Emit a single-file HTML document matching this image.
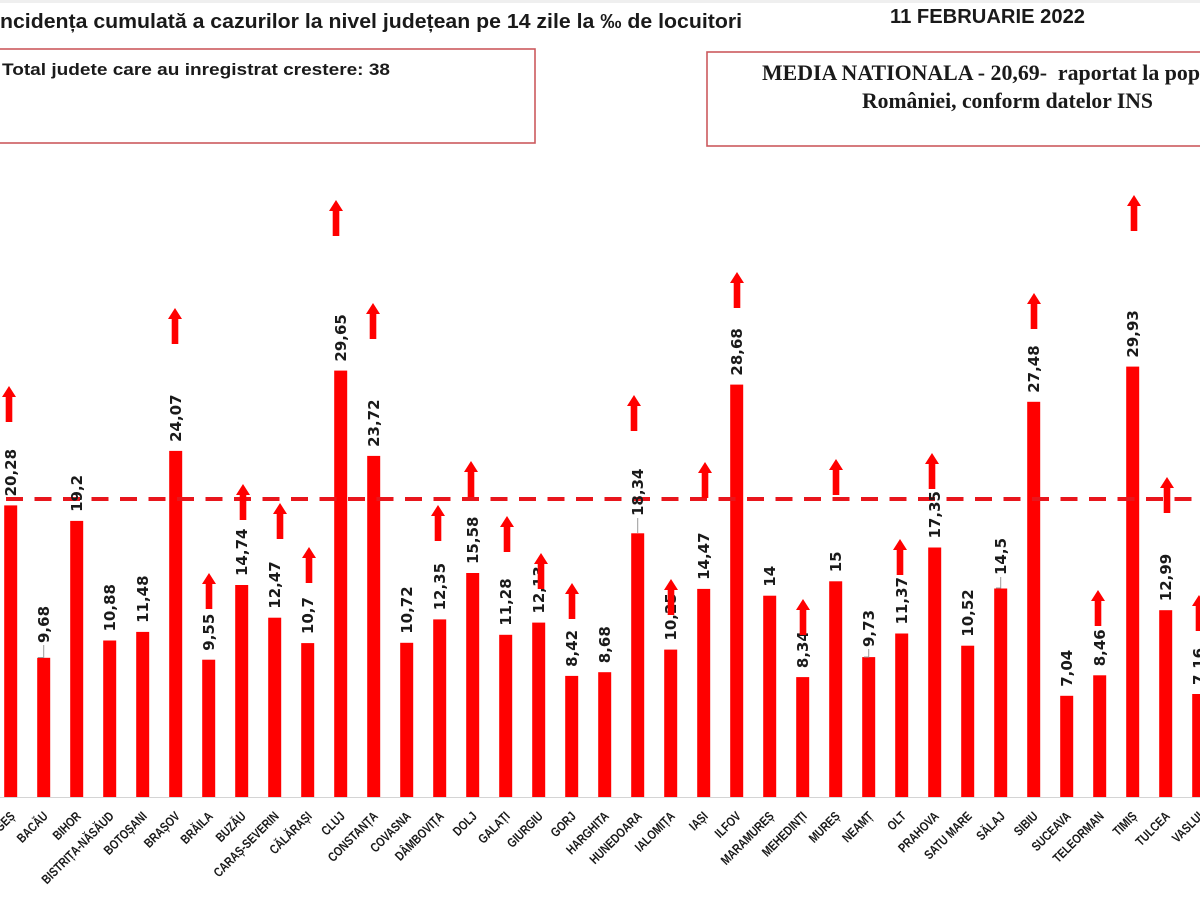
<!DOCTYPE html>
<html>
<head>
<meta charset="utf-8">
<style>
  html,body{margin:0;padding:0;background:#fff;}
  body{width:1200px;height:900px;overflow:hidden;}
  svg{display:block;}
  .v{font-family:"DejaVu Sans","Liberation Sans",sans-serif;font-weight:bold;font-size:15px;fill:#1a1a1a;}
  .x{font-family:"Liberation Sans",sans-serif;font-weight:bold;font-size:13px;fill:#1a1a1a;}
</style>
</head>
<body>
<svg width="1200" height="900" viewBox="0 0 1200 900" xmlns="http://www.w3.org/2000/svg">
  <defs>
    <path id="ar" d="M0 0 L7 11 L3.3 11 L3.3 36 L-3.3 36 L-3.3 11 L-7 11 Z" fill="#ff0000"/>
  </defs>
  <rect x="0" y="0" width="1200" height="900" fill="#fff"/>
  <rect x="0" y="0" width="1200" height="3" fill="#efefef"/>

  <!-- Titles -->
  <text x="0" y="28" textLength="742" lengthAdjust="spacingAndGlyphs" font-family="Liberation Sans, sans-serif" font-weight="bold" font-size="20" fill="#1a1a1a">ncidența cumulată a cazurilor la nivel județean pe 14 zile la ‰ de locuitori</text>
  <text x="890" y="23" textLength="195" lengthAdjust="spacingAndGlyphs" font-family="Liberation Sans, sans-serif" font-weight="bold" font-size="20" fill="#1a1a1a">11 FEBRUARIE 2022</text>

  <!-- Boxes -->
  <rect x="-2" y="49" width="537" height="94" fill="none" stroke="#cc5a5e" stroke-width="1.6"/>
  <text x="2" y="75" textLength="388" lengthAdjust="spacingAndGlyphs" font-family="Liberation Sans, sans-serif" font-weight="bold" font-size="17" fill="#1a1a1a">Total judete care au inregistrat crestere: 38</text>

  <rect x="707" y="52" width="500" height="94" fill="none" stroke="#cc5a5e" stroke-width="1.6"/>
  <text x="762" y="80" textLength="438" lengthAdjust="spacingAndGlyphs" font-family="Liberation Serif, serif" font-weight="bold" font-size="22" fill="#1a1a1a" style="white-space:pre">MEDIA NATIONALA - 20,69-  raportat la pop</text>
  <text x="862" y="108" textLength="291" lengthAdjust="spacingAndGlyphs" font-family="Liberation Serif, serif" font-weight="bold" font-size="22" fill="#1a1a1a">României, conform datelor INS</text>

  <!-- Axis -->
  <line x1="0" y1="797.5" x2="1200" y2="797.5" stroke="#d4d4d4" stroke-width="1"/>

  <!-- Bars -->
  <g fill="#ff0000">
    <rect x="4.2" y="505.4" width="13" height="291.6"/>
    <rect x="37.2" y="657.8" width="13" height="139.2"/>
    <rect x="70.2" y="520.9" width="13" height="276.1"/>
    <rect x="103.2" y="640.5" width="13" height="156.5"/>
    <rect x="136.2" y="631.9" width="13" height="165.1"/>
    <rect x="169.2" y="450.9" width="13" height="346.1"/>
    <rect x="202.2" y="659.7" width="13" height="137.3"/>
    <rect x="235.2" y="585" width="13" height="212"/>
    <rect x="268.2" y="617.7" width="13" height="179.3"/>
    <rect x="301.2" y="643.1" width="13" height="153.9"/>
    <rect x="334.2" y="370.6" width="13" height="426.4"/>
    <rect x="367.2" y="455.9" width="13" height="341.1"/>
    <rect x="400.2" y="642.8" width="13" height="154.2"/>
    <rect x="433.2" y="619.4" width="13" height="177.6"/>
    <rect x="466.2" y="573" width="13" height="224"/>
    <rect x="499.2" y="634.8" width="13" height="162.2"/>
    <rect x="532.2" y="622.6" width="13" height="174.4"/>
    <rect x="565.2" y="675.9" width="13" height="121.1"/>
    <rect x="598.2" y="672.2" width="13" height="124.8"/>
    <rect x="631.2" y="533.3" width="13" height="263.7"/>
    <rect x="664.2" y="649.6" width="13" height="147.4"/>
    <rect x="697.2" y="588.9" width="13" height="208.1"/>
    <rect x="730.2" y="384.6" width="13" height="412.4"/>
    <rect x="763.2" y="595.7" width="13" height="201.3"/>
    <rect x="796.2" y="677.1" width="13" height="119.9"/>
    <rect x="829.2" y="581.3" width="13" height="215.7"/>
    <rect x="862.2" y="657.1" width="13" height="139.9"/>
    <rect x="895.2" y="633.5" width="13" height="163.5"/>
    <rect x="928.2" y="547.5" width="13" height="249.5"/>
    <rect x="961.2" y="645.7" width="13" height="151.3"/>
    <rect x="994.2" y="588.5" width="13" height="208.5"/>
    <rect x="1027.2" y="401.8" width="13" height="395.2"/>
    <rect x="1060.2" y="695.8" width="13" height="101.2"/>
    <rect x="1093.2" y="675.3" width="13" height="121.7"/>
    <rect x="1126.2" y="366.6" width="13" height="430.4"/>
    <rect x="1159.2" y="610.2" width="13" height="186.8"/>
    <rect x="1192.2" y="694" width="13" height="103"/>
  </g>

  <!-- Mean dashed line -->
  <line x1="6" y1="499" x2="1200" y2="499" stroke="#e8161c" stroke-width="4" stroke-dasharray="17 11.5"/>

  <!-- Leader lines -->
  <g stroke="#9a9a9a" stroke-width="1" fill="none">
    <polyline points="43.7,645 43.7,657.5 38,657.5"/>
    <line x1="637.7" y1="518" x2="637.7" y2="533"/>
    <polyline points="868.7,649 868.7,657 864,657"/>
    <polyline points="1000.7,577 1000.7,588 996,588"/>
  </g>

  <!-- Value labels -->
  <g class="v">
    <text transform="translate(10.7,496.4) rotate(-90)" dy="0.36em">20,28</text>
    <text transform="translate(43.7,643) rotate(-90)" dy="0.36em">9,68</text>
    <text transform="translate(76.7,511.9) rotate(-90)" dy="0.36em">19,2</text>
    <text transform="translate(109.7,631.5) rotate(-90)" dy="0.36em">10,88</text>
    <text transform="translate(142.7,622.9) rotate(-90)" dy="0.36em">11,48</text>
    <text transform="translate(175.7,441.9) rotate(-90)" dy="0.36em">24,07</text>
    <text transform="translate(208.7,650.7) rotate(-90)" dy="0.36em">9,55</text>
    <text transform="translate(241.7,576) rotate(-90)" dy="0.36em">14,74</text>
    <text transform="translate(274.7,608.7) rotate(-90)" dy="0.36em">12,47</text>
    <text transform="translate(307.7,634.1) rotate(-90)" dy="0.36em">10,7</text>
    <text transform="translate(340.7,361.6) rotate(-90)" dy="0.36em">29,65</text>
    <text transform="translate(373.7,446.9) rotate(-90)" dy="0.36em">23,72</text>
    <text transform="translate(406.7,633.8) rotate(-90)" dy="0.36em">10,72</text>
    <text transform="translate(439.7,610.4) rotate(-90)" dy="0.36em">12,35</text>
    <text transform="translate(472.7,564) rotate(-90)" dy="0.36em">15,58</text>
    <text transform="translate(505.7,625.8) rotate(-90)" dy="0.36em">11,28</text>
    <text transform="translate(538.7,613.6) rotate(-90)" dy="0.36em">12,13</text>
    <text transform="translate(571.7,666.9) rotate(-90)" dy="0.36em">8,42</text>
    <text transform="translate(604.7,663.2) rotate(-90)" dy="0.36em">8,68</text>
    <text transform="translate(637.7,516) rotate(-90)" dy="0.36em">18,34</text>
    <text transform="translate(670.7,640.6) rotate(-90)" dy="0.36em">10,25</text>
    <text transform="translate(703.7,579.9) rotate(-90)" dy="0.36em">14,47</text>
    <text transform="translate(736.7,375.6) rotate(-90)" dy="0.36em">28,68</text>
    <text transform="translate(769.7,586.7) rotate(-90)" dy="0.36em">14</text>
    <text transform="translate(802.7,668.1) rotate(-90)" dy="0.36em">8,34</text>
    <text transform="translate(835.7,572.3) rotate(-90)" dy="0.36em">15</text>
    <text transform="translate(868.7,647) rotate(-90)" dy="0.36em">9,73</text>
    <text transform="translate(901.7,624.5) rotate(-90)" dy="0.36em">11,37</text>
    <text transform="translate(934.7,538.5) rotate(-90)" dy="0.36em">17,35</text>
    <text transform="translate(967.7,636.7) rotate(-90)" dy="0.36em">10,52</text>
    <text transform="translate(1000.7,575) rotate(-90)" dy="0.36em">14,5</text>
    <text transform="translate(1033.7,392.8) rotate(-90)" dy="0.36em">27,48</text>
    <text transform="translate(1066.7,686.8) rotate(-90)" dy="0.36em">7,04</text>
    <text transform="translate(1099.7,666.3) rotate(-90)" dy="0.36em">8,46</text>
    <text transform="translate(1132.7,357.6) rotate(-90)" dy="0.36em">29,93</text>
    <text transform="translate(1165.7,601.2) rotate(-90)" dy="0.36em">12,99</text>
    <text transform="translate(1198.7,685) rotate(-90)" dy="0.36em">7,16</text>
  </g>

  <!-- Arrows -->
  <use href="#ar" x="9" y="386"/>
  <use href="#ar" x="175" y="308"/>
  <use href="#ar" x="209" y="573"/>
  <use href="#ar" x="243" y="484"/>
  <use href="#ar" x="280" y="503"/>
  <use href="#ar" x="309" y="547"/>
  <use href="#ar" x="336" y="200"/>
  <use href="#ar" x="373" y="303"/>
  <use href="#ar" x="438" y="505"/>
  <use href="#ar" x="471" y="461"/>
  <use href="#ar" x="507" y="516"/>
  <use href="#ar" x="541" y="553"/>
  <use href="#ar" x="572" y="583"/>
  <use href="#ar" x="634" y="395"/>
  <use href="#ar" x="671" y="579"/>
  <use href="#ar" x="705" y="462"/>
  <use href="#ar" x="737" y="272"/>
  <use href="#ar" x="803" y="599"/>
  <use href="#ar" x="836" y="459"/>
  <use href="#ar" x="900" y="539"/>
  <use href="#ar" x="932" y="453"/>
  <use href="#ar" x="1034" y="293"/>
  <use href="#ar" x="1098" y="590"/>
  <use href="#ar" x="1134" y="195"/>
  <use href="#ar" x="1167" y="477"/>
  <use href="#ar" x="1199" y="595"/>

  <!-- X labels -->
  <g class="x" text-anchor="end">
    <text transform="translate(15.7,817) rotate(-45) scale(0.8,1)">ARGEȘ</text>
    <text transform="translate(48.7,817) rotate(-45) scale(0.8,1)">BACĂU</text>
    <text transform="translate(81.7,817) rotate(-45) scale(0.8,1)">BIHOR</text>
    <text transform="translate(114.7,817) rotate(-45) scale(0.8,1)">BISTRIȚA-NĂSĂUD</text>
    <text transform="translate(147.7,817) rotate(-45) scale(0.8,1)">BOTOȘANI</text>
    <text transform="translate(180.7,817) rotate(-45) scale(0.8,1)">BRAȘOV</text>
    <text transform="translate(213.7,817) rotate(-45) scale(0.8,1)">BRĂILA</text>
    <text transform="translate(246.7,817) rotate(-45) scale(0.8,1)">BUZĂU</text>
    <text transform="translate(279.7,817) rotate(-45) scale(0.8,1)">CARAȘ-SEVERIN</text>
    <text transform="translate(312.7,817) rotate(-45) scale(0.8,1)">CĂLĂRAȘI</text>
    <text transform="translate(345.7,817) rotate(-45) scale(0.8,1)">CLUJ</text>
    <text transform="translate(378.7,817) rotate(-45) scale(0.8,1)">CONSTANȚA</text>
    <text transform="translate(411.7,817) rotate(-45) scale(0.8,1)">COVASNA</text>
    <text transform="translate(444.7,817) rotate(-45) scale(0.8,1)">DÂMBOVIȚA</text>
    <text transform="translate(477.7,817) rotate(-45) scale(0.8,1)">DOLJ</text>
    <text transform="translate(510.7,817) rotate(-45) scale(0.8,1)">GALAȚI</text>
    <text transform="translate(543.7,817) rotate(-45) scale(0.8,1)">GIURGIU</text>
    <text transform="translate(576.7,817) rotate(-45) scale(0.8,1)">GORJ</text>
    <text transform="translate(609.7,817) rotate(-45) scale(0.8,1)">HARGHITA</text>
    <text transform="translate(642.7,817) rotate(-45) scale(0.8,1)">HUNEDOARA</text>
    <text transform="translate(675.7,817) rotate(-45) scale(0.8,1)">IALOMIȚA</text>
    <text transform="translate(708.7,817) rotate(-45) scale(0.8,1)">IAȘI</text>
    <text transform="translate(741.7,817) rotate(-45) scale(0.8,1)">ILFOV</text>
    <text transform="translate(774.7,817) rotate(-45) scale(0.8,1)">MARAMUREȘ</text>
    <text transform="translate(807.7,817) rotate(-45) scale(0.8,1)">MEHEDINȚI</text>
    <text transform="translate(840.7,817) rotate(-45) scale(0.8,1)">MUREȘ</text>
    <text transform="translate(873.7,817) rotate(-45) scale(0.8,1)">NEAMȚ</text>
    <text transform="translate(906.7,817) rotate(-45) scale(0.8,1)">OLT</text>
    <text transform="translate(939.7,817) rotate(-45) scale(0.8,1)">PRAHOVA</text>
    <text transform="translate(972.7,817) rotate(-45) scale(0.8,1)">SATU MARE</text>
    <text transform="translate(1005.7,817) rotate(-45) scale(0.8,1)">SĂLAJ</text>
    <text transform="translate(1038.7,817) rotate(-45) scale(0.8,1)">SIBIU</text>
    <text transform="translate(1071.7,817) rotate(-45) scale(0.8,1)">SUCEAVA</text>
    <text transform="translate(1104.7,817) rotate(-45) scale(0.8,1)">TELEORMAN</text>
    <text transform="translate(1137.7,817) rotate(-45) scale(0.8,1)">TIMIȘ</text>
    <text transform="translate(1170.7,817) rotate(-45) scale(0.8,1)">TULCEA</text>
    <text transform="translate(1203.7,817) rotate(-45) scale(0.8,1)">VASLUI</text>
  </g>
</svg>
</body>
</html>
